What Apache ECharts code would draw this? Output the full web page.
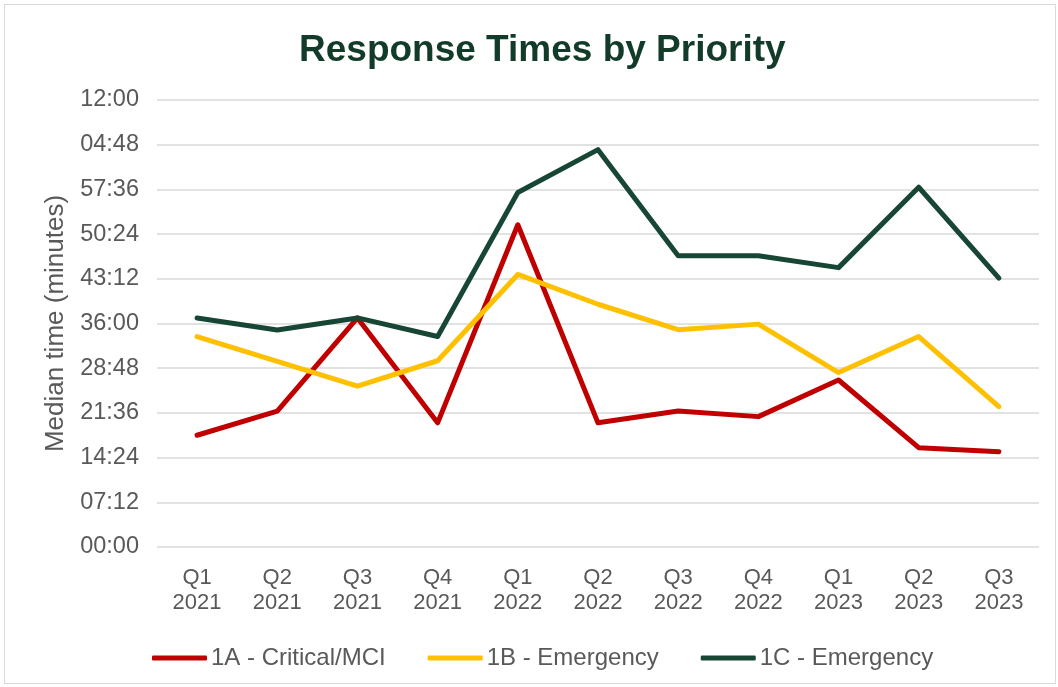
<!DOCTYPE html>
<html>
<head>
<meta charset="utf-8">
<script src="https://cdn.jsdelivr.net/npm/echarts@6/dist/echarts.min.js"></script>
<style>
html,body{margin:0;padding:0;background:#fff;}
#wrap{position:absolute;left:4px;top:4px;width:1052px;height:680px;border:1px solid #d9d9d9;box-sizing:border-box;}
#chart{position:absolute;left:-5px;top:-5px;width:1058px;height:687px;}
</style>
</head>
<body>
<div id="wrap"><div id="chart"></div></div>
<script>
// Data (values in minutes)
const categories = ['Q1\n2021','Q2\n2021','Q3\n2021','Q4\n2021','Q1\n2022','Q2\n2022','Q3\n2022','Q4\n2022','Q1\n2023','Q2\n2023','Q3\n2023'];
const seriesNames = ['1A - Critical/MCI','1B - Emergency','1C - Emergency'];
const critical1A = [18.0, 21.9, 36.9, 20.0, 51.9, 20.0, 21.9, 21.0, 26.9, 16.0, 15.35];
const emergency1B = [33.9, 29.9, 25.9, 30.0, 43.9, 39.1, 35.0, 35.9, 28.1, 33.9, 22.6];
const emergency1C = [36.9, 34.95, 36.9, 33.9, 57.1, 64.0, 46.9, 46.9, 45.0, 57.95, 43.3];
const colors = ['#C00000','#FFC000','#174734'];

function fmt(v){
  const total = Math.round(v*60);
  const m = Math.floor(total/60) % 60;
  const s = total % 60;
  return String(m).padStart(2,'0') + ':' + String(s).padStart(2,'0');
}

const FONT = 'Liberation Sans, Arial, sans-serif';
const chart = echarts.init(document.getElementById('chart'));
const dataSets = [critical1A, emergency1B, emergency1C];
chart.setOption({
  animation:false,
  color: colors,
  title:{
    text:'Response Times by Priority',
    left:294, top:27,
    textStyle:{fontFamily:FONT, fontSize:37, fontWeight:'bold', color:'#133b2a'}
  },
  grid:{left:157, right:19, top:100, bottom:140},
  xAxis:{
    type:'category', data:categories, boundaryGap:true,
    axisLine:{show:false}, axisTick:{show:false},
    axisLabel:{fontFamily:FONT, fontSize:22, color:'#595959', lineHeight:25.5, margin:18}
  },
  yAxis:{
    type:'value', min:0, max:72, interval:7.2,
    name:'Median time (minutes)', nameLocation:'middle', nameGap:87,
    nameTextStyle:{fontFamily:FONT, fontSize:26, color:'#595959'},
    axisLabel:{formatter:fmt, fontFamily:FONT, fontSize:23.5, color:'#595959', margin:18},
    splitLine:{lineStyle:{color:'#d9d9d9', width:1.5}},
    axisLine:{show:false}, axisTick:{show:false}
  },
  legend:{
    top:641, left:147, itemGap:42, itemWidth:55, itemHeight:5, icon:'roundRect',
    textStyle:{fontFamily:FONT, fontSize:24, color:'#595959', padding:[0,0,0,-1]},
    data: seriesNames
  },
  series: seriesNames.map((n,i)=>({
    name:n, type:'line', data:dataSets[i], showSymbol:false, symbol:'none',
    lineStyle:{width:5, color:colors[i], cap:'round', join:'round'}
  }))
});
</script>
</body>
</html>
